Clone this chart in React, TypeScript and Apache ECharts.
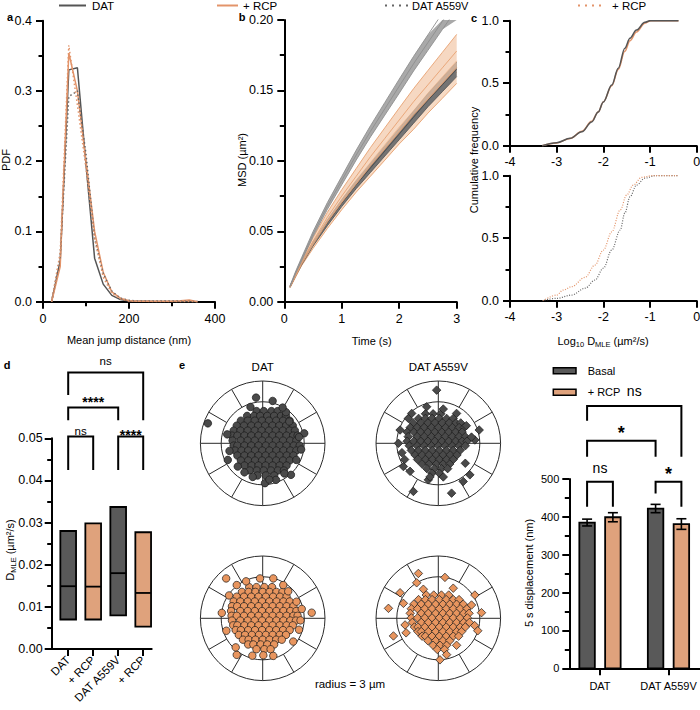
import React, { useEffect, useRef } from "react";
import * as echarts from "echarts";

const FONT = "'Liberation Sans', Arial, Helvetica, sans-serif";
const INK = "#000";
const GRAY_LINE = "#555555";
const ORANGE_LINE = "#E3946A";
const GRAY_FILL = "#595959";
const ORANGE_FILL = "#DFA27C";
const GRAY_PT = "#4a4a4a";
const ORANGE_PT = "#E8955E";

// ---------- Panel a : PDF of mean jump distance ----------
const jumpBins = [20, 40, 60, 80, 100, 120, 140, 160, 180, 200, 220, 240, 260, 280, 300, 320, 340, 360];
const pdfDat = [0, 0.058, 0.33, 0.333, 0.195, 0.062, 0.025, 0.009, 0.003, 0.001, 0.0005, 0.0005, 0.0003, 0.0003, 0.0002, 0.0002, 0.0002, 0.0001];
const pdfDatRcp = [0, 0.05, 0.354, 0.3, 0.2, 0.1, 0.042, 0.014, 0.005, 0.0015, 0.0008, 0.0005, 0.0005, 0.0005, 0.0008, 0.0015, 0.0025, 0];
const pdfA559v = [0, 0.065, 0.292, 0.3, 0.21, 0.09, 0.04, 0.015, 0.005, 0.002, 0.001, 0.001, 0.001, 0.001, 0.001, 0.0008, 0.0005, 0.0003];
const pdfA559vRcp = [0, 0.07, 0.365, 0.28, 0.19, 0.09, 0.035, 0.012, 0.004, 0.001, 0.0005, 0.0005, 0.0003, 0.0003, 0.0003, 0.0003, 0.0003, 0];

// ---------- Panel b : MSD (mean and SEM) ----------
const msdTime = [0.1, 0.2, 0.3, 0.5, 0.75, 1, 1.25, 1.5, 1.75, 2, 2.25, 2.5, 2.75, 3];
const msdDat = [0.0105, 0.019, 0.027, 0.041, 0.056, 0.07, 0.083, 0.095, 0.107, 0.119, 0.131, 0.143, 0.154, 0.165];
const msdDatSem = [0.0004, 0.0008, 0.001, 0.0015, 0.002, 0.0024, 0.0028, 0.0032, 0.0036, 0.004, 0.0043, 0.0046, 0.0049, 0.0052];
const msdDatRcp = [0.0105, 0.019, 0.028, 0.043, 0.06, 0.075, 0.089, 0.103, 0.116, 0.129, 0.142, 0.154, 0.166, 0.178];
const msdDatRcpSem = [0.0005, 0.001, 0.0015, 0.0025, 0.0035, 0.0045, 0.0055, 0.0065, 0.0075, 0.0085, 0.0093, 0.0102, 0.011, 0.0118];
const msdA559v = [0.011, 0.021, 0.03, 0.048, 0.068, 0.086, 0.104, 0.121, 0.137, 0.153, 0.169, 0.184, 0.199, 0.214];
const msdA559vSem = [0.0004, 0.0008, 0.0012, 0.0018, 0.0024, 0.003, 0.0035, 0.004, 0.0045, 0.005, 0.0052, 0.0055, 0.0058, 0.006];
const msdA559vRcp = [0.0105, 0.019, 0.027, 0.04, 0.055, 0.069, 0.082, 0.094, 0.106, 0.118, 0.129, 0.141, 0.152, 0.163];
const msdA559vRcpSem = [0.0005, 0.001, 0.0015, 0.0022, 0.003, 0.0037, 0.0043, 0.0049, 0.0055, 0.006, 0.0066, 0.0071, 0.0076, 0.008];

// ---------- Panel c : cumulative frequency of log10 D ----------
const cdfDat = [[-3.31, 0], [-3.0, 0.024], [-2.71, 0.059], [-2.46, 0.112], [-2.25, 0.19], [-2.11, 0.27], [-2.0, 0.35], [-1.82, 0.485], [-1.68, 0.62], [-1.54, 0.78], [-1.43, 0.86], [-1.29, 0.925], [-1.11, 0.987], [-1.0, 1.0], [-0.39, 1.0]];
const cdfDatRcp = [[-3.31, 0], [-3.0, 0.022], [-2.71, 0.058], [-2.46, 0.115], [-2.25, 0.195], [-2.11, 0.27], [-2.0, 0.35], [-1.82, 0.48], [-1.68, 0.61], [-1.54, 0.755], [-1.43, 0.84], [-1.29, 0.91], [-1.11, 0.98], [-0.98, 1.0], [-0.39, 1.0]];
const cdfA559v = [[-3.31, 0], [-3.0, 0.019], [-2.68, 0.045], [-2.39, 0.1], [-2.18, 0.165], [-2.0, 0.26], [-1.82, 0.405], [-1.64, 0.565], [-1.54, 0.7], [-1.43, 0.83], [-1.29, 0.925], [-1.11, 0.98], [-0.89, 1.0], [-0.39, 1.0]];
const cdfA559vRcp = [[-3.29, 0], [-3.0, 0.045], [-2.86, 0.085], [-2.68, 0.112], [-2.39, 0.187], [-2.18, 0.285], [-2.0, 0.405], [-1.82, 0.55], [-1.64, 0.725], [-1.5, 0.845], [-1.36, 0.925], [-1.18, 0.987], [-0.96, 1.0], [-0.39, 1.0]];

// ---------- Panel d : D_MLE floating bars (min, median, max) ----------
const dCategories = ["DAT", "+ RCP", "DAT A559V", "+ RCP"];
const dMin = [0.007, 0.007, 0.008, 0.0053];
const dMedian = [0.0149, 0.0148, 0.018, 0.0133];
const dMax = [0.028, 0.0298, 0.0337, 0.0277];
const dSig = ["ns", "****", "****", "ns"];

// ---------- Panel e : displacement scatter (x, y in µm), rows of [y, xs] + outliers ----------
const datTopRows: [number, number[]][] = [
  [1.55, [-0.3, 0.05, 0.42, 0.72]],
  [1.32, [-0.75, -0.42, -0.12, 0.22, 0.55, 0.88, 1.12]],
  [1.09, [-1.05, -0.72, -0.38, -0.03, 0.3, 0.65, 0.98, 1.3]],
  [0.85, [-1.25, -0.9, -0.55, -0.22, 0.12, 0.47, 0.8, 1.13, 1.45]],
  [0.61, [-1.4, -1.07, -0.72, -0.38, -0.05, 0.3, 0.63, 0.97, 1.3, 1.55]],
  [0.37, [-1.48, -1.22, -0.88, -0.55, -0.2, 0.13, 0.48, 0.8, 1.15, 1.47, 1.68]],
  [0.13, [-1.45, -1.06, -0.72, -0.38, -0.03, 0.3, 0.64, 0.98, 1.32, 1.62]],
  [-0.11, [-1.4, -1.22, -0.88, -0.55, -0.2, 0.15, 0.48, 0.82, 1.15, 1.5, 1.78]],
  [-0.35, [-1.33, -1.02, -0.7, -0.37, -0.02, 0.32, 0.66, 1.0, 1.33, 1.62]],
  [-0.59, [-1.22, -0.88, -0.55, -0.2, 0.14, 0.48, 0.82, 1.16, 1.48]],
  [-0.83, [-1.05, -0.7, -0.37, -0.03, 0.3, 0.65, 0.98, 1.3]],
  [-1.07, [-0.88, -0.53, -0.2, 0.14, 0.48, 0.82, 1.15]],
  [-1.31, [-0.62, -0.28, 0.05, 0.4, 0.73, 1.02]],
  [-1.55, [-0.25, 0.15, 0.55]],
];
const datTopOut = [[-2.64, 0.96], [-0.32, 2.2], [0.48, 2.04], [-0.59, 1.75], [-1.71, 0.43], [2.0, 0.48], [1.62, -0.8], [1.36, -1.52], [0.11, -1.92], [0.64, -1.76], [-1.68, -0.8], [-1.6, -0.37], [-0.88, -1.4], [-1.2, -1.12], [1.12, 1.5], [0.96, 1.72], [1.28, 1.05], [1.75, 0.3], [1.04, -1.45], [0.32, -1.75], [-0.48, -1.62], [1.85, -0.3]];

const a559TopRows: [number, number[]][] = [
  [1.42, [-0.62, -0.25, 0.12]],
  [1.2, [-0.95, -0.62, -0.3, 0.05, 0.4, 0.72]],
  [0.98, [-1.2, -0.85, -0.5, -0.17, 0.18, 0.52, 0.85, 1.08]],
  [0.76, [-1.35, -1.02, -0.68, -0.33, 0.0, 0.35, 0.68, 1.0, 1.25]],
  [0.54, [-1.5, -1.18, -0.85, -0.5, -0.17, 0.17, 0.5, 0.83, 1.15]],
  [0.32, [-1.45, -1.02, -0.68, -0.33, 0.0, 0.33, 0.67, 1.0, 1.3]],
  [0.1, [-1.5, -1.18, -0.85, -0.5, -0.17, 0.17, 0.5, 0.83, 1.15, 1.38]],
  [-0.12, [-1.4, -1.02, -0.68, -0.33, 0.0, 0.33, 0.67, 1.0, 1.3]],
  [-0.34, [-1.3, -0.95, -0.62, -0.28, 0.05, 0.4, 0.72, 1.05]],
  [-0.56, [-1.12, -0.78, -0.45, -0.1, 0.23, 0.57, 0.9]],
  [-0.78, [-1.0, -0.62, -0.28, 0.05, 0.4, 0.72]],
  [-1.0, [-0.78, -0.45, -0.1, 0.23, 0.55]],
  [-1.22, [-0.55, -0.2, 0.15, 0.45]],
  [-1.44, [-0.3, 0.05]],
];
const a559TopOut = [[-0.08, 2.56], [-1.44, 1.2], [-1.84, 0.64], [-1.28, 1.44], [1.97, 0.64], [1.76, 0.16], [1.52, -1.52], [-1.2, -2.32], [0.64, -2.4], [1.2, -1.84], [-0.48, -1.76], [-1.68, -1.12], [-1.62, -0.78], [-1.36, -1.35], [-1.75, -0.45], [0.24, 1.65], [0.88, 1.44], [1.35, 0.85], [1.6, 0.3], [1.3, -0.96], [-0.4, -1.62], [0.24, -1.62], [-1.92, 0.0], [-0.56, 1.76]];

const datBotRows: [number, number[]][] = [
  [1.5, [-0.65, -0.3, 0.08, 0.45]],
  [1.27, [-1.0, -0.68, -0.35, 0.0, 0.33, 0.66, 0.95]],
  [1.04, [-1.25, -0.9, -0.55, -0.2, 0.15, 0.5, 0.83, 1.15]],
  [0.81, [-1.4, -1.08, -0.72, -0.38, -0.03, 0.32, 0.67, 1.0, 1.3]],
  [0.58, [-1.48, -1.23, -0.9, -0.55, -0.2, 0.15, 0.48, 0.82, 1.15, 1.48]],
  [0.35, [-1.52, -1.08, -0.72, -0.38, -0.03, 0.32, 0.66, 1.0, 1.33, 1.62]],
  [0.12, [-1.5, -1.25, -0.9, -0.55, -0.2, 0.15, 0.48, 0.82, 1.15, 1.48, 1.68]],
  [-0.11, [-1.48, -1.08, -0.72, -0.38, -0.03, 0.32, 0.66, 1.0, 1.33, 1.6]],
  [-0.34, [-1.42, -1.22, -0.88, -0.55, -0.2, 0.15, 0.48, 0.82, 1.15, 1.45]],
  [-0.57, [-1.3, -1.05, -0.7, -0.37, -0.03, 0.32, 0.65, 0.98, 1.3]],
  [-0.8, [-1.15, -0.85, -0.52, -0.18, 0.15, 0.48, 0.82, 1.12]],
  [-1.03, [-0.95, -0.68, -0.35, 0.0, 0.33, 0.65, 0.92]],
  [-1.26, [-0.7, -0.45, -0.1, 0.22, 0.55]],
  [-1.49, [-0.3, 0.08, 0.38]],
];
const datBotOut = [[2.36, 0.27], [1.88, 0.45], [1.82, -0.1], [1.75, -0.55], [1.47, -1.12], [0.51, -1.81], [0.03, -1.78], [-1.25, -1.76], [-0.13, 1.92], [0.51, 1.92], [1.23, 1.3], [0.99, 1.6], [1.63, 0.8], [-1.76, 1.92], [-1.25, 1.6], [-1.62, 1.1], [-1.97, 0.26], [-1.75, -0.6], [-1.3, -1.4], [-0.8, 1.78], [-0.5, -1.8]];

const a559BotRows: [number, number[]][] = [
  [1.12, [-0.58, -0.22, 0.15, 0.5]],
  [0.9, [-0.95, -0.62, -0.3, 0.05, 0.38, 0.72, 1.0]],
  [0.68, [-1.18, -0.82, -0.48, -0.13, 0.22, 0.55, 0.88, 1.2]],
  [0.46, [-1.3, -1.0, -0.65, -0.3, 0.05, 0.38, 0.72, 1.05, 1.38]],
  [0.24, [-1.35, -0.82, -0.48, -0.13, 0.22, 0.55, 0.88, 1.22, 1.48]],
  [0.02, [-1.3, -1.0, -0.65, -0.3, 0.05, 0.38, 0.72, 1.05, 1.4]],
  [-0.2, [-1.25, -0.82, -0.48, -0.13, 0.22, 0.55, 0.88, 1.22, 1.5]],
  [-0.42, [-1.15, -0.98, -0.65, -0.3, 0.05, 0.38, 0.72, 1.05, 1.3]],
  [-0.64, [-0.98, -0.82, -0.48, -0.13, 0.22, 0.55, 0.88, 1.12]],
  [-0.86, [-0.78, -0.62, -0.3, 0.05, 0.38, 0.72, 0.98]],
  [-1.08, [-0.5, -0.13, 0.22, 0.55]],
  [-1.3, [-0.25, 0.08, 0.4]],
  [-1.5, [-0.05, 0.3]],
];
const a559BotOut = [[-0.96, 2.16], [-2.4, 0.48], [-1.84, 1.23], [-2.16, -0.85], [1.76, 1.12], [1.6, 0.64], [2.08, 0.27], [0.72, 1.45], [0.32, 1.97], [0.08, -2.0], [0.4, -1.75], [0.88, -1.3], [-1.6, -0.32], [-1.68, 0.72], [-1.04, 1.71], [-0.72, 1.4], [1.75, -0.35], [1.9, -0.6], [-1.55, -0.7]];

// ---------- Panel f : 5 s displacement (mean, SEM) ----------
const fCategories = ["DAT", "DAT A559V"];
const fBasal = [385, 422];
const fBasalSem = [9, 11];
const fRcp = [399, 381];
const fRcpSem = [12, 14];
const fSig = ["ns", "*", "*", "ns"];

// ---------- layout constants (annotation geometry) ----------
const D_BRACKETS = [
  { a: 0, b: 1, top: 0.0504, ya: 0.0425, yb: 0.0425, dy: -6, font: "11.5px", bold: false },
  { a: 2, b: 3, top: 0.0504, ya: 0.0425, yb: 0.0425, dy: -2, font: "14px", bold: true },
  { a: 0, b: 2, top: 0.0573, ya: 0.0543, yb: 0.0543, dy: -6, font: "14px", bold: true },
  { a: 0, b: 3, top: 0.0656, ya: 0.0603, yb: 0.0543, dy: -12, font: "11.5px", bold: false },
];
const F_BRACKETS = [
  { a: 0, sa: -1, b: 0, sb: 1, top: 493, ya: 427, yb: 427, dy: -14, font: "14px", bold: false },
  { a: 1, sa: -1, b: 1, sb: 1, top: 493, ya: 462, yb: 427, dy: -8, font: "18px", bold: true },
  { a: 0, sa: -1, b: 1, sb: -1, top: 601, ya: 559, yb: 559, dy: -8, font: "18px", bold: true },
  { a: 0, sa: -1, b: 1, sb: 1, top: 693, ya: 654, yb: 559, dy: -15, font: "14px", bold: false },
];
const BAR_OFF = 12.9;
const SPOKE_ANGLES = [30, 60, 120, 150, 210, 240, 300, 330];

const rowsToPts = (rows: [number, number[]][], out: number[][]) =>
  rows.flatMap(([y, xs]) => xs.map((x) => [x, y])).concat(out);

const zip = (xs: number[], ys: number[]) => xs.map((x, i) => [x, ys[i]]);

function buildOption(): any {
  const tickStyle = { color: INK, width: 2 };
  const axisBase = (fontSize: number, margin = 11) => ({
    axisLine: { show: true, onZero: false, lineStyle: { color: INK, width: 2 } },
    axisTick: { show: true, length: 7, lineStyle: tickStyle },
    axisLabel: { color: INK, fontFamily: FONT, fontSize, margin },
    splitLine: { show: false },
  });
  const minor = { show: true, splitNumber: 2, length: 4.5, lineStyle: tickStyle };
  const hidden = (i: number) => ({ type: "value", gridIndex: i, min: -3, max: 3, show: false });
  const yLab = (fmt: (v: number) => string, margin = 11) => ({ color: INK, fontFamily: FONT, fontSize: 12.5, margin, formatter: fmt });

  const grid = [
    { left: 43, top: 20.7, width: 172, height: 281 },
    { left: 284.3, top: 20, width: 172.4, height: 281.7 },
    { left: 510, top: 20.7, width: 186.7, height: 125 },
    { left: 510, top: 175.7, width: 186.7, height: 125 },
    { left: 51.7, top: 438.3, width: 100, height: 210.7 },
    { left: 200.4, top: 381, width: 124.6, height: 124.6 },
    { left: 376, top: 381, width: 124.6, height: 124.6 },
    { left: 200.4, top: 556, width: 124.6, height: 124.6 },
    { left: 376, top: 556, width: 124.6, height: 124.6 },
    { left: 569.3, top: 479, width: 130.7, height: 189.3 },
  ].map((g) => ({ ...g, containLabel: false, outerBoundsMode: "none" }));

  const xAxis: any[] = [
    { type: "value", gridIndex: 0, min: 0, max: 400, interval: 200, minorTick: minor, ...axisBase(12.5) },
    { type: "value", gridIndex: 1, min: 0, max: 3, interval: 1, ...axisBase(12.5) },
    { type: "value", gridIndex: 2, min: -4, max: 0, interval: 1, ...axisBase(12.5, 10) },
    { type: "value", gridIndex: 3, min: -4, max: 0, interval: 1, ...axisBase(12.5, 10) },
    {
      type: "value", gridIndex: 4, min: -0.66, max: 3.34, ...axisBase(11),
      axisTick: { show: true, length: 7, lineStyle: tickStyle, customValues: [0, 1, 2, 3] },
      axisLabel: {
        color: INK, fontFamily: FONT, fontSize: 11.5, margin: 9, rotate: 45,
        customValues: [0, 1, 2, 3], formatter: (v: number) => dCategories[Math.round(v)] ?? "",
      },
    },
    hidden(5), hidden(6), hidden(7), hidden(8),
    {
      type: "value", gridIndex: 9, min: -0.448, max: 1.46, ...axisBase(11),
      axisTick: { show: true, length: 7, lineStyle: tickStyle, customValues: [0, 1] },
      axisLabel: {
        color: INK, fontFamily: FONT, fontSize: 11, margin: 12,
        customValues: [0, 1], formatter: (v: number) => fCategories[Math.round(v)] ?? "",
      },
    },
  ];
  const yAxis: any[] = [
    { type: "value", gridIndex: 0, min: 0, max: 0.4, interval: 0.1, minorTick: minor, ...axisBase(12.5), axisLabel: yLab((v) => v.toFixed(1)) },
    { type: "value", gridIndex: 1, min: 0, max: 0.2, interval: 0.05, minorTick: minor, ...axisBase(12.5), axisLabel: yLab((v) => v.toFixed(2)) },
    { type: "value", gridIndex: 2, min: 0, max: 1, interval: 0.5, minorTick: minor, ...axisBase(12.5), axisLabel: yLab((v) => v.toFixed(1)) },
    { type: "value", gridIndex: 3, min: 0, max: 1, interval: 0.5, minorTick: minor, ...axisBase(12.5), axisLabel: yLab((v) => v.toFixed(1)) },
    { type: "value", gridIndex: 4, min: 0, max: 0.05, interval: 0.01, minorTick: minor, ...axisBase(12.5), axisLabel: yLab((v) => v.toFixed(2), 9) },
    hidden(5), hidden(6), hidden(7), hidden(8),
    { type: "value", gridIndex: 9, min: 0, max: 500, interval: 100, minorTick: minor, ...axisBase(11, 10) },
  ];

  const series: any[] = [];
  const line = (i: number, data: any[], color: string, dotted: boolean, extra: any = {}) => ({
    type: "line", xAxisIndex: i, yAxisIndex: i, data, symbol: "none", silent: true, z: 3,
    lineStyle: { color, width: 1.5, type: dotted ? [1.5, 2.5] : "solid" }, ...extra,
  });

  // a
  series.push(line(0, zip(jumpBins, pdfDat), GRAY_LINE, false));
  series.push(line(0, zip(jumpBins, pdfDatRcp), ORANGE_LINE, false));
  series.push(line(0, zip(jumpBins, pdfA559v), "#666", true));
  series.push(line(0, zip(jumpBins, pdfA559vRcp), ORANGE_LINE, true));

  // b : SEM bands (polygon through the axes' scales) + edge and mean lines
  const band = (mean: number[], sem: number[], fill: string, edge: string, center: string, z: number) => {
    series.push({
      type: "custom", xAxisIndex: 1, yAxisIndex: 1, silent: true, z, clip: true,
      data: [[msdTime[0], mean[0]]],
      renderItem: (params: any, api: any) => {
        const top = params.coordSys.y;
        const up = msdTime.map((t, i) => {
          const p = api.coord([t, mean[i] + sem[i]]);
          return [p[0], Math.max(p[1], top)];
        });
        const lo = msdTime.map((t, i) => {
          const p = api.coord([t, mean[i] - sem[i]]);
          return [p[0], Math.max(p[1], top)];
        }).reverse();
        return { type: "polygon", shape: { points: up.concat(lo) }, style: { fill } };
      },
    });
    const edgeLine = (vals: number[], color: string, w: number) => ({
      type: "line", xAxisIndex: 1, yAxisIndex: 1, symbol: "none", silent: true, z: z + 0.5,
      data: zip(msdTime, vals), lineStyle: { color, width: w },
    });
    series.push(edgeLine(mean.map((m, i) => m - sem[i]), edge, 0.9));
    series.push(edgeLine(mean.map((m, i) => m + sem[i]), edge, 0.9));
    series.push(edgeLine(mean, center, 0.9));
  };
  band(msdA559vRcp, msdA559vRcpSem, "rgba(240,190,150,0.55)", "#E7A06F", "#E7A06F", 2);
  band(msdDat, msdDatSem, "#747474", "#5a5a5a", "#4a4a4a", 3);
  band(msdDatRcp, msdDatRcpSem, "rgba(242,200,168,0.7)", "#E8A272", "#E8A272", 4);
  band(msdA559v, msdA559vSem, "#a9a9a9", "#8e8e8e", "#8e8e8e", 5);

  // c
  const smooth = { smooth: 0.35, smoothMonotone: "x" };
  series.push(line(2, cdfDatRcp, ORANGE_LINE, false, smooth));
  series.push(line(2, cdfDat, GRAY_LINE, false, smooth));
  series.push(line(3, cdfA559v, "#666", true, { ...smooth, lineStyle: { color: "#666", width: 1.2, type: [1, 1.5] } }));
  series.push(line(3, cdfA559vRcp, ORANGE_LINE, true, { ...smooth, lineStyle: { color: ORANGE_LINE, width: 1.2, type: [1, 1.5] } }));

  // d : floating bars
  series.push({
    type: "custom", xAxisIndex: 4, yAxisIndex: 4, silent: true, z: 3,
    data: dMin.map((m, i) => [i, dMin[i], dMedian[i], dMax[i]]),
    renderItem: (params: any, api: any) => {
      const i = api.value(0);
      const lo = api.coord([i, api.value(1)]);
      const md = api.coord([i, api.value(2)]);
      const hi = api.coord([i, api.value(3)]);
      const w = 15.7;
      const x0 = lo[0] - w / 2;
      return {
        type: "group",
        children: [
          { type: "rect", shape: { x: x0, y: hi[1], width: w, height: lo[1] - hi[1] }, style: { fill: i % 2 ? ORANGE_FILL : GRAY_FILL, stroke: INK, lineWidth: 1.8 } },
          { type: "line", shape: { x1: x0, y1: md[1], x2: x0 + w, y2: md[1] }, style: { stroke: INK, lineWidth: 1.8 } },
        ],
      };
    },
  });

  const bracketSeries = (axis: number, items: any[], labels: string[], xOf: (b: any, side: "a" | "b", api: any) => number) => ({
    type: "custom", xAxisIndex: axis, yAxisIndex: axis, silent: true, z: 4, clip: false,
    data: items.map((b) => [b.a, b.top]),
    renderItem: (params: any, api: any) => {
      const b = items[params.dataIndex];
      const xl = xOf(b, "a", api);
      const xr = xOf(b, "b", api);
      const yt = api.coord([0, b.top])[1];
      const yl = api.coord([0, b.ya])[1];
      const yr = api.coord([0, b.yb])[1];
      return {
        type: "group",
        children: [
          { type: "polyline", shape: { points: [[xl, yl], [xl, yt], [xr, yt], [xr, yr]] }, style: { stroke: INK, lineWidth: 2, fill: null } },
          {
            type: "text", x: (xl + xr) / 2, y: yt + b.dy,
            style: { text: labels[params.dataIndex], fill: INK, font: `${b.bold ? "bold " : ""}${b.font} ${FONT}`, align: "center", verticalAlign: "middle", textAlign: "center", textVerticalAlign: "middle" },
          },
        ],
      };
    },
  });
  series.push(bracketSeries(4, D_BRACKETS, dSig, (b, s, api) => api.coord([s === "a" ? b.a : b.b, 0])[0]));

  // e : polar plots
  const polarRender = (params: any, api: any) => {
    const c = api.coord([0, 0]);
    const r3 = api.size([3, 0])[0];
    const r2 = api.size([2, 0])[0];
    const st = { stroke: "#2a2a2a", lineWidth: 1, fill: null };
    const children: any[] = [
      { type: "circle", shape: { cx: c[0], cy: c[1], r: r3 }, style: { ...st, fill: "#fff" } },
      { type: "circle", shape: { cx: c[0], cy: c[1], r: r2 }, style: st },
      { type: "line", shape: { x1: c[0] - r3, y1: c[1], x2: c[0] + r3, y2: c[1] }, style: st },
      { type: "line", shape: { x1: c[0], y1: c[1] - r3, x2: c[0], y2: c[1] + r3 }, style: st },
    ];
    SPOKE_ANGLES.forEach((deg) => {
      const a = (deg * Math.PI) / 180;
      children.push({
        type: "line",
        shape: { x1: c[0] + r2 * Math.cos(a), y1: c[1] - r2 * Math.sin(a), x2: c[0] + r3 * Math.cos(a), y2: c[1] - r3 * Math.sin(a) },
        style: st,
      });
    });
    return { type: "group", children };
  };
  const polarSets = [
    { g: 5, pts: rowsToPts(datTopRows, datTopOut), symbol: "circle", size: 7.5, color: GRAY_PT },
    { g: 6, pts: rowsToPts(a559TopRows, a559TopOut), symbol: "diamond", size: 8.5, color: GRAY_PT },
    { g: 7, pts: rowsToPts(datBotRows, datBotOut), symbol: "circle", size: 7.5, color: ORANGE_PT },
    { g: 8, pts: rowsToPts(a559BotRows, a559BotOut), symbol: "diamond", size: 8.5, color: ORANGE_PT },
  ];
  polarSets.forEach((p) => {
    series.push({ type: "custom", xAxisIndex: p.g, yAxisIndex: p.g, silent: true, z: 1, data: [[0, 0]], renderItem: polarRender });
    series.push({
      type: "scatter", xAxisIndex: p.g, yAxisIndex: p.g, silent: true, z: 2, data: p.pts,
      symbol: p.symbol, symbolSize: p.size, itemStyle: { color: p.color, borderColor: "#1a1a1a", borderWidth: 0.7, opacity: 1 },
    });
  });

  // f : bars with SEM
  series.push({
    type: "custom", xAxisIndex: 9, yAxisIndex: 9, silent: true, z: 3,
    data: fCategories.flatMap((_, i) => [[i, fBasal[i], fBasalSem[i], 0], [i, fRcp[i], fRcpSem[i], 1]]),
    renderItem: (params: any, api: any) => {
      const i = api.value(0), v = api.value(1), s = api.value(2), k = api.value(3);
      const base = api.coord([i, 0]);
      const top = api.coord([i, v]);
      const cx = base[0] + (k === 0 ? -BAR_OFF : BAR_OFF);
      const w = 15.5;
      const eT = api.coord([i, v + s])[1];
      const eB = api.coord([i, v - s])[1];
      const ls = { stroke: INK, lineWidth: 1.6 };
      return {
        type: "group",
        children: [
          { type: "rect", shape: { x: cx - w / 2, y: top[1], width: w, height: base[1] - top[1] }, style: { fill: k ? ORANGE_FILL : GRAY_FILL, stroke: INK, lineWidth: 1.8 } },
          { type: "line", shape: { x1: cx, y1: eT, x2: cx, y2: eB }, style: ls },
          { type: "line", shape: { x1: cx - 5, y1: eT, x2: cx + 5, y2: eT }, style: ls },
          { type: "line", shape: { x1: cx - 5, y1: eB, x2: cx + 5, y2: eB }, style: ls },
        ],
      };
    },
  });
  series.push(bracketSeries(9, F_BRACKETS, fSig, (b, s, api) => {
    const idx = s === "a" ? b.a : b.b;
    const side = s === "a" ? b.sa : b.sb;
    return api.coord([idx, 0])[0] + side * BAR_OFF;
  }));

  // ---------- graphic: legends, titles, panel letters ----------
  const txt = (x: number, y: number, text: string, size = 11, extra: any = {}, styleExtra: any = {}) => ({
    type: "text", x, y, silent: true, ...extra,
    style: { text, fill: INK, font: `${size}px ${FONT}`, align: "center", verticalAlign: "middle", textAlign: "center", textVerticalAlign: "middle", ...styleExtra },
  });
  const vtxt = (x: number, y: number, text: string, size = 11) => txt(x, y, text, size, { rotation: Math.PI / 2 });
  const letter = (x: number, y: number, t: string) => txt(x, y, t, 11, {}, { font: `bold 11px ${FONT}` });
  const leftTxt = { align: "left", textAlign: "left" };
  const leg = (x1: number, x2: number, color: string, dash: any) => ({
    type: "line", silent: true, shape: { x1, y1: 5.5, x2, y2: 5.5 }, style: { stroke: color, lineWidth: 2, lineDash: dash },
  });
  const rich = {
    m: { fontSize: 11, fontFamily: FONT, fill: INK, lineHeight: 14, verticalAlign: "middle" },
    s: { fontSize: 7.5, fontFamily: FONT, fill: INK, lineHeight: 8, verticalAlign: "bottom" },
  };

  const graphic = [
    leg(59, 86, GRAY_LINE, null), txt(92, 5.5, "DAT", 11.5, {}, leftTxt),
    leg(217, 238, ORANGE_LINE, null), txt(243, 5.5, "+ RCP", 11.5, {}, leftTxt),
    leg(385, 408, "#666", [2, 5]), txt(412, 5.5, "DAT A559V", 11, {}, leftTxt),
    leg(578, 606, ORANGE_LINE, [2, 5]), txt(612, 5.5, "+ RCP", 11.5, {}, leftTxt),
    letter(10, 17, "a"), letter(242, 17, "b"), letter(474, 18, "c"), letter(7, 365, "d"), letter(182, 365, "e"),
    vtxt(6, 160, "PDF"),
    txt(129, 340, "Mean jump distance (nm)"),
    vtxt(242, 160, "MSD (µm²)"),
    txt(371.7, 341, "Time (s)"),
    vtxt(474, 160, "Cumulative frequency"),
    { type: "text", x: 603, y: 341, silent: true, style: { text: "{m|Log}{s|10}{m| D}{s|MLE}{m| (µm²/s)}", rich, align: "center", verticalAlign: "middle", textAlign: "center", textVerticalAlign: "middle" } },
    { type: "text", x: 10, y: 550, rotation: Math.PI / 2, silent: true, style: { text: "{m|D}{s|MLE}{m| (µm²/s)}", rich, align: "center", verticalAlign: "middle", textAlign: "center", textVerticalAlign: "middle" } },
    vtxt(529, 573, "5 s displacement (nm)"),
    txt(262.7, 366.7, "DAT", 11.5),
    txt(438.3, 366.7, "DAT A559V", 11.5),
    txt(350, 684, "radius = 3 µm", 11.5),
    { type: "rect", silent: true, shape: { x: 553.3, y: 367.7, width: 22.7, height: 6 }, style: { fill: GRAY_FILL, stroke: INK, lineWidth: 1.5 } },
    { type: "rect", silent: true, shape: { x: 553.3, y: 389.3, width: 22.7, height: 6 }, style: { fill: ORANGE_FILL, stroke: INK, lineWidth: 1.5 } },
    txt(587.7, 370.7, "Basal", 11, {}, leftTxt),
    txt(587.7, 392.3, "+ RCP", 11, {}, leftTxt),
  ];

  return {
    animation: false,
    backgroundColor: "#fff",
    textStyle: { fontFamily: FONT },
    grid, xAxis, yAxis, series, graphic,
  };
}

export default function App() {
  const ref = useRef<HTMLDivElement>(null);
  useEffect(() => {
    document.body.style.margin = "0";
    const chart = echarts.init(ref.current!, null, { renderer: "svg" });
    chart.setOption(buildOption());
    return () => chart.dispose();
  }, []);
  return <div ref={ref} style={{ width: 700, height: 710 }} />;
}
